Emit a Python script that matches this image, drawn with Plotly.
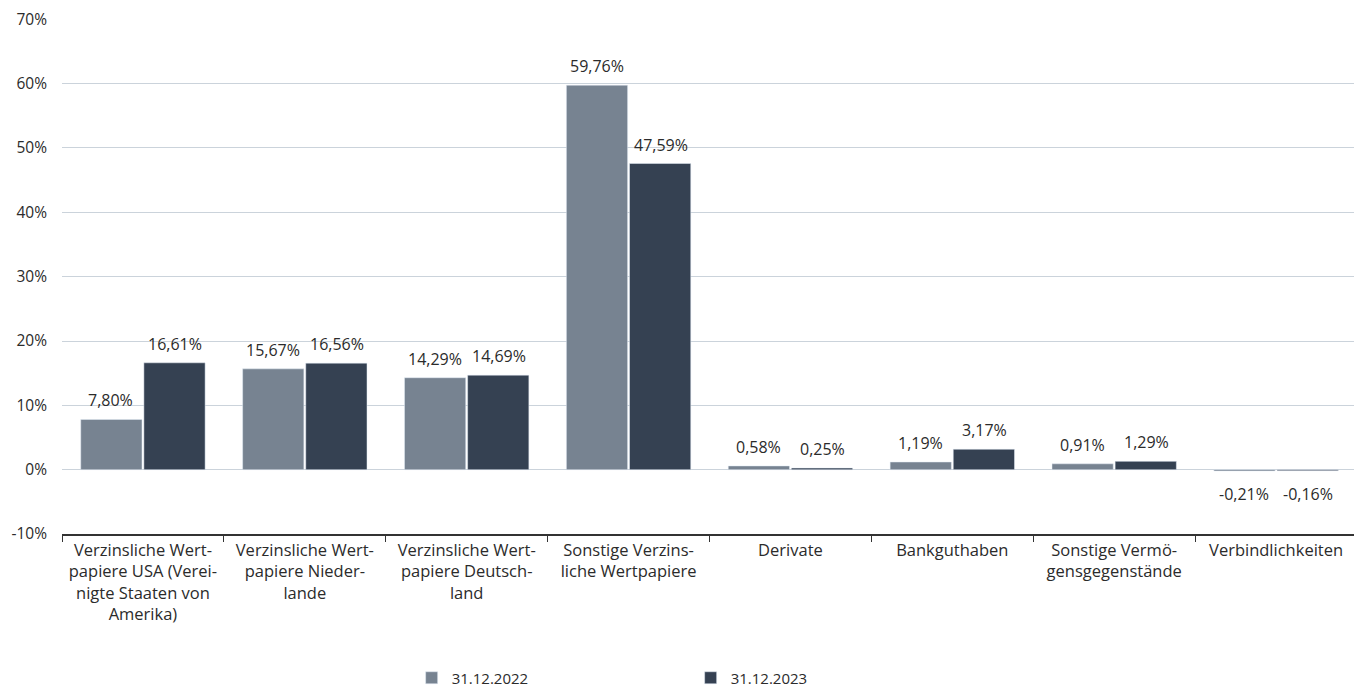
import plotly.graph_objects as go

categories = [
    "Verzinsliche Wert-<br>papiere USA (Verei-<br>nigte Staaten von<br>Amerika)",
    "Verzinsliche Wert-<br>papiere Nieder-<br>lande",
    "Verzinsliche Wert-<br>papiere Deutsch-<br>land",
    "Sonstige Verzins-<br>liche Wertpapiere",
    "Derivate",
    "Bankguthaben",
    "Sonstige Vermö-<br>gensgegenstände",
    "Verbindlichkeiten",
]
values_2022 = [7.80, 15.67, 14.29, 59.76, 0.58, 1.19, 0.91, -0.21]
values_2023 = [16.61, 16.56, 14.69, 47.59, 0.25, 3.17, 1.29, -0.16]
series_names = ["31.12.2022", "31.12.2023"]
colors = ["#778391", "#354152"]
y_tick_values = [-10, 0, 10, 20, 30, 40, 50, 60, 70]
y_tick_labels = ["-10%", "0%", "10%", "20%", "30%", "40%", "50%", "60%", "70%"]

FONT = "'Open Sans', sans-serif"
TXT = "#2b2b2b"

fig = go.Figure()
for name, vals, col in zip(series_names, [values_2022, values_2023], colors):
    fig.add_trace(go.Bar(
        x=categories, y=vals, name=name, marker_color=col,
        hovertemplate="%{y:.2f}%<extra>" + name + "</extra>",
    ))

# value labels above/below each bar
shifts = [-32, 32]
for vals, xs in zip([values_2022, values_2023], shifts):
    for cat, v in zip(categories, vals):
        fig.add_annotation(
            x=cat, y=v, xref="x", yref="y",
            text=f"{v:.2f}".replace(".", ",") + "%",
            showarrow=False, xshift=xs,
            yanchor="bottom" if v >= 0 else "top",
            yshift=6 if v >= 0 else -10,
            font=dict(size=16, color=TXT, family=FONT),
        )

# the page adds an 8px body margin, so the figure is sized to fit the 1362x688 window
fig.update_layout(
    width=1354, height=680,
    margin=dict(l=54, r=5, t=11, b=154),
    paper_bgcolor="white", plot_bgcolor="white",
    barmode="group", bargap=0.22, bargroupgap=0.03,
    font=dict(family=FONT, size=15, color=TXT),
    showlegend=True,
    legend=dict(
        orientation="h", x=0.27, xanchor="left",
        yref="container", y=0.0147, yanchor="middle",
        entrywidth=234, entrywidthmode="pixels",
        font=dict(size=15, color=TXT, family=FONT),
    ),
)
fig.update_yaxes(
    range=[-10, 70.05], tickvals=y_tick_values, ticktext=y_tick_labels,
    showgrid=True, gridcolor="#cbd3db", gridwidth=1,
    zeroline=True, zerolinecolor="#cbd3db", zerolinewidth=1,
    showline=False, ticks="", ticklabelstandoff=14, automargin=False,
    ticklabeloverflow="allow",
    tickfont=dict(size=15.5, color=TXT, family=FONT),
)
fig.update_xaxes(
    showline=True, linecolor="#333333", linewidth=2,
    ticks="outside", tickson="boundaries", ticklen=6, tickcolor="#333333", tickwidth=1,
    tickfont=dict(size=16.5, color=TXT, family=FONT),
    tickangle=0, automargin=False,
)

fig.write_html("out.html")
